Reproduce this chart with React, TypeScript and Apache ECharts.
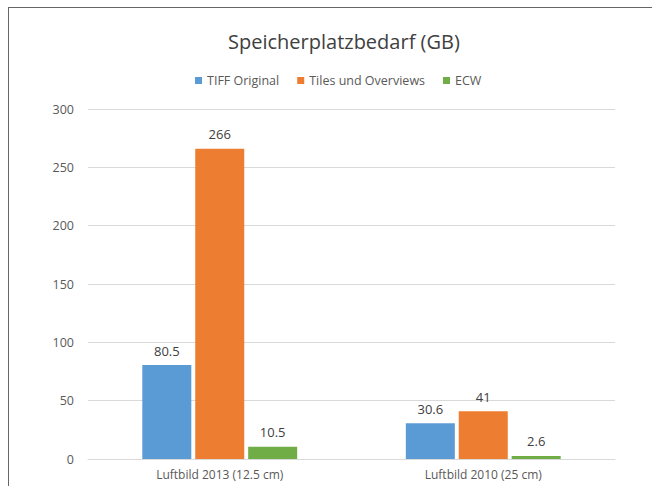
import React, { useEffect, useRef } from "react";
import * as echarts from "echarts";

const categories = ["Luftbild 2013 (12.5 cm)", "Luftbild 2010 (25 cm)"];
const seriesNames = ["TIFF Original", "Tiles und Overviews", "ECW"];
const tiffValues = [80.5, 30.6];
const tilesValues = [266, 41];
const ecwValues = [10.5, 2.6];
const colors = ["#5B9BD5", "#ED7D31", "#70AD47"];

export default function App() {
  const ref = useRef<HTMLDivElement>(null);
  useEffect(() => {
    const chart = echarts.init(ref.current!, undefined, { renderer: "svg" });
    const font = "'Open Sans', sans-serif";
    const mk = (name: string, data: number[], color: string) => ({
      name,
      type: "bar",
      data,
      barWidth: "18.6%",
      barGap: "8%",
      itemStyle: { color },
      label: {
        show: true,
        position: "top",
        distance: 8,
        color: "#404040",
        fontSize: 13,
        fontFamily: font,
      },
    });
    chart.setOption({
      animation: false,
      textStyle: { fontFamily: font },
      title: {
        text: "Speicherplatzbedarf (GB)",
        left: 223,
        top: 26,
        textStyle: { fontSize: 20, fontWeight: "normal", color: "#404040", fontFamily: font },
      },
      legend: {
        top: 69,
        left: 190,
        itemWidth: 7,
        itemHeight: 7,
        itemGap: 18,
        icon: "rect",
        textStyle: { fontSize: 12.5, color: "#595959", fontFamily: font },
        data: seriesNames,
      },
      grid: { left: 88, right: 37, top: 109, bottom: 27, containLabel: false },
      xAxis: {
        type: "category",
        data: categories,
        axisLine: { lineStyle: { color: "#d9d9d9" } },
        axisTick: { show: false },
        axisLabel: { color: "#595959", fontSize: 12, margin: 9, fontFamily: font },
      },
      yAxis: {
        type: "value",
        min: 0,
        max: 300,
        interval: 50,
        axisLine: { show: false },
        axisTick: { show: false },
        axisLabel: { color: "#595959", fontSize: 12.5, margin: 14, fontFamily: font },
        splitLine: { lineStyle: { color: "#d9d9d9" } },
      },
      graphic: [
        { type: "line", shape: { x1: 8.5, y1: 7, x2: 8.5, y2: 486 }, style: { stroke: "#666", lineWidth: 1 } },
        { type: "line", shape: { x1: 8, y1: 7.5, x2: 652, y2: 7.5 }, style: { stroke: "#666", lineWidth: 1 } },
      ],
      series: [
        mk(seriesNames[0], tiffValues, colors[0]),
        mk(seriesNames[1], tilesValues, colors[1]),
        mk(seriesNames[2], ecwValues, colors[2]),
      ],
    });
    return () => chart.dispose();
  }, []);
  return (
    <div
      ref={ref}
      style={{ position: "absolute", left: 0, top: 0, width: 652, height: 486, background: "#fff" }}
    />
  );
}
